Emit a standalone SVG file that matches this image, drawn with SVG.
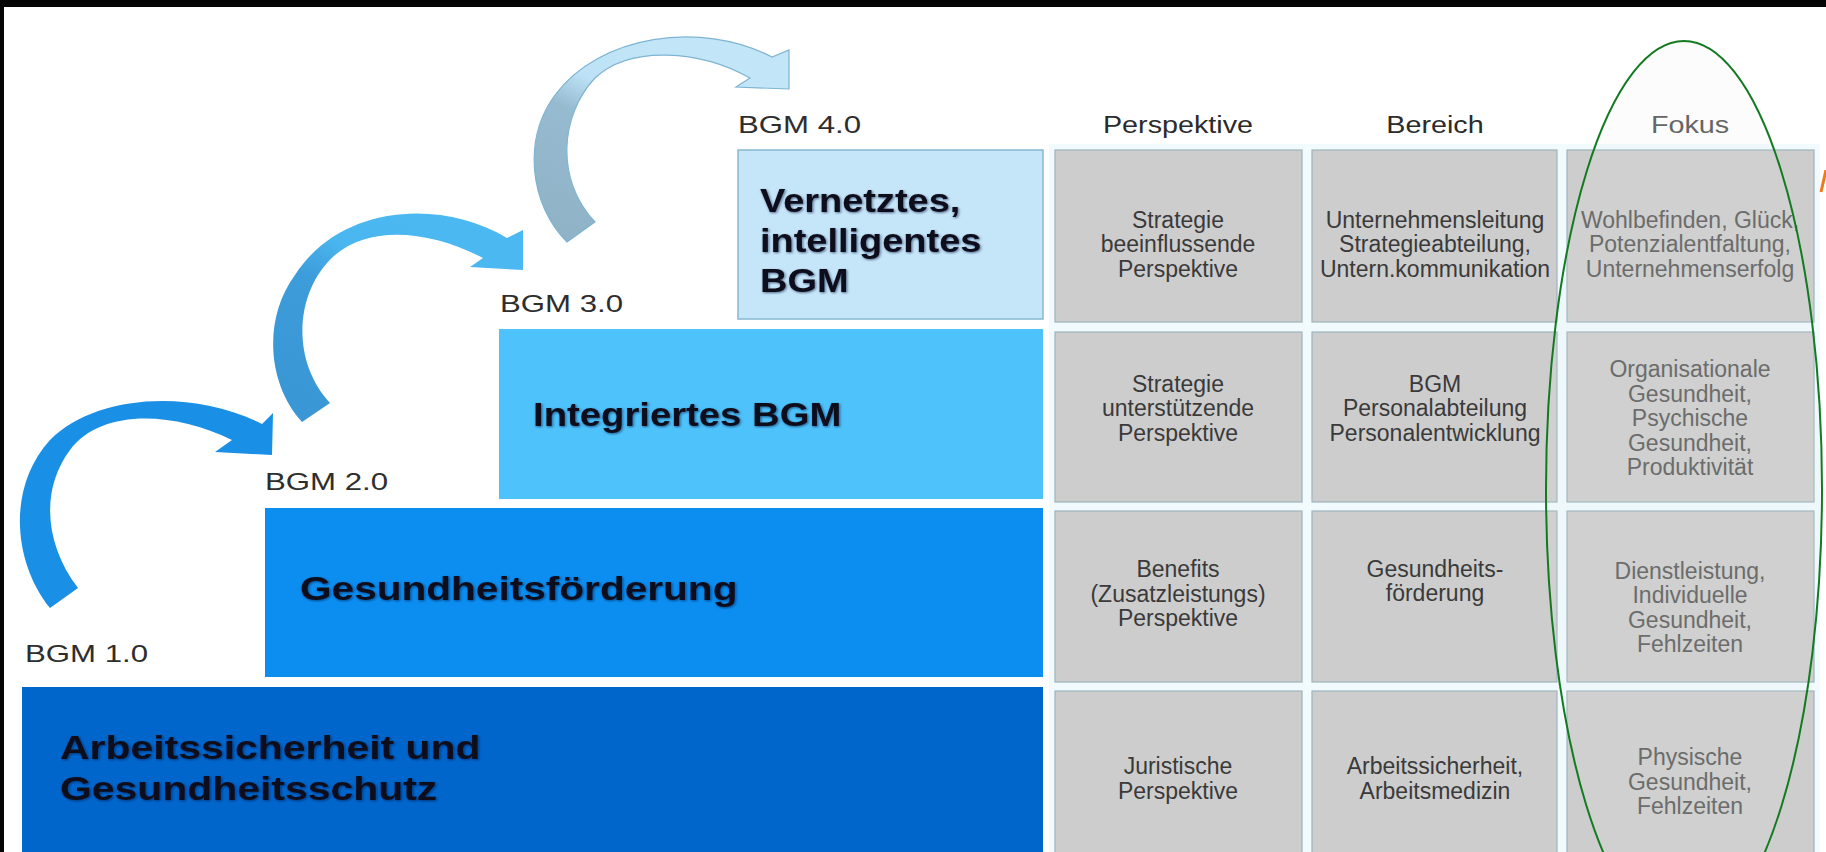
<svg xmlns="http://www.w3.org/2000/svg" width="1826" height="852" viewBox="0 0 1826 852">
  <style>
    .title { font-family: "Liberation Sans", Arial, sans-serif; font-weight: bold; font-size: 33px; fill: #10111a; }
    .lvl { font-family: "Liberation Sans", Arial, sans-serif; font-size: 24px; fill: #2e2e2e; }
    .head { font-family: "Liberation Sans", Arial, sans-serif; font-size: 23px; fill: #2b2b2b; text-anchor: middle; }
    .head.focus { fill: #555555; }
    .cell { fill: #cdcdcd; stroke: #9db4bd; stroke-width: 1.2; }
    .ct { font-family: "Liberation Sans", Arial, sans-serif; font-size: 23px; fill: #3a3a3a; text-anchor: middle; }
    .ct.focus { fill: #5c5c5c; }
  </style>
  <defs>
    <filter id="soft" x="-5%" y="-20%" width="110%" height="140%">
      <feGaussianBlur in="SourceAlpha" stdDeviation="1.2"/>
      <feOffset dx="1" dy="1" result="b"/>
      <feFlood flood-color="#0a1440" flood-opacity="0.6"/>
      <feComposite in2="b" operator="in"/>
      <feMerge><feMergeNode/><feMergeNode in="SourceGraphic"/></feMerge>
    </filter>
    <linearGradient id="arc2" gradientUnits="userSpaceOnUse" x1="285" y1="410" x2="400" y2="210">
      <stop offset="0" stop-color="#3a96d4"/>
      <stop offset="0.55" stop-color="#3d9cda"/>
      <stop offset="0.75" stop-color="#4ab6ef"/>
      <stop offset="1" stop-color="#4bb8f1"/>
    </linearGradient>
    <linearGradient id="arc3" gradientUnits="userSpaceOnUse" x1="555" y1="235" x2="650" y2="40">
      <stop offset="0" stop-color="#8fb2c6"/>
      <stop offset="0.55" stop-color="#96bad0"/>
      <stop offset="0.72" stop-color="#bde2f5"/>
      <stop offset="1" stop-color="#c2e6f8"/>
    </linearGradient>
  </defs>

  <!-- page and frame -->
  <rect x="0" y="0" width="1826" height="852" fill="#ffffff"/>
  <rect x="1049" y="144" width="771" height="708" fill="#f1fafd"/>
  <rect x="0" y="0" width="1826" height="7" fill="#050505"/>
  <rect x="0" y="0" width="4" height="852" fill="#050505"/>

  <!-- staircase levels (slide text is set wide, hence the x-scale) -->
  <g id="node-bgm4">
    <text class="lvl" transform="translate(738 133) scale(1.3 1)">BGM 4.0</text>
    <rect x="738" y="150" width="305" height="169" fill="#c5e6f8" stroke="#86b8d0" stroke-width="1.5"/>
    <g class="title" filter="url(#soft)" transform="translate(760 0) scale(1.15 1)">
      <text x="0" y="212">Vernetztes,</text>
      <text x="0" y="252">intelligentes</text>
      <text x="0" y="292">BGM</text>
    </g>
  </g>
  <g id="node-bgm3">
    <text class="lvl" transform="translate(500 312) scale(1.3 1)">BGM 3.0</text>
    <rect x="499" y="329" width="544" height="170" fill="#4ec2fa"/>
    <text class="title" filter="url(#soft)" transform="translate(533 426) scale(1.16 1)">Integriertes BGM</text>
  </g>
  <g id="node-bgm2">
    <text class="lvl" transform="translate(265 490) scale(1.3 1)">BGM 2.0</text>
    <rect x="265" y="508" width="778" height="169" fill="#0b8ef0"/>
    <text class="title" filter="url(#soft)" transform="translate(300 600) scale(1.23 1)">Gesundheitsförderung</text>
  </g>
  <g id="node-bgm1">
    <text class="lvl" transform="translate(25 662) scale(1.3 1)">BGM 1.0</text>
    <rect x="22" y="687" width="1021" height="170" fill="#0066cb"/>
    <g class="title" filter="url(#soft)" transform="translate(60 0) scale(1.24 1)">
      <text x="0" y="759">Arbeitssicherheit und</text>
      <text x="0" y="800">Gesundheitsschutz</text>
    </g>
  </g>

  <!-- column headers -->
  <g id="headers">
    <text class="head" transform="translate(1178 133) scale(1.25 1)">Perspektive</text>
    <text class="head" transform="translate(1435 133) scale(1.25 1)">Bereich</text>
    <text class="head focus" transform="translate(1690 133) scale(1.25 1)">Fokus</text>
  </g>

  <!-- row 1 -->
  <g id="cell-r1-perspektive">
    <rect class="cell" x="1055" y="150" width="247" height="172"/>
    <text class="ct" x="1178"><tspan x="1178" y="228">Strategie</tspan><tspan x="1178" y="252">beeinflussende</tspan><tspan x="1178" y="277">Perspektive</tspan></text>
  </g>
  <g id="cell-r1-bereich">
    <rect class="cell" x="1312" y="150" width="245" height="172"/>
    <text class="ct" x="1435"><tspan x="1435" y="228">Unternehmensleitung</tspan><tspan x="1435" y="252">Strategieabteilung,</tspan><tspan x="1435" y="277">Untern.kommunikation</tspan></text>
  </g>
  <g id="cell-r1-fokus">
    <rect class="cell" x="1567" y="150" width="247" height="172"/>
    <text class="ct focus" x="1690"><tspan x="1690" y="228">Wohlbefinden, Glück,</tspan><tspan x="1690" y="252">Potenzialentfaltung,</tspan><tspan x="1690" y="277">Unternehmenserfolg</tspan></text>
  </g>

  <!-- row 2 -->
  <g id="cell-r2-perspektive">
    <rect class="cell" x="1055" y="332" width="247" height="170"/>
    <text class="ct" x="1178"><tspan x="1178" y="392">Strategie</tspan><tspan x="1178" y="416">unterstützende</tspan><tspan x="1178" y="441">Perspektive</tspan></text>
  </g>
  <g id="cell-r2-bereich">
    <rect class="cell" x="1312" y="332" width="245" height="170"/>
    <text class="ct" x="1435"><tspan x="1435" y="392">BGM</tspan><tspan x="1435" y="416">Personalabteilung</tspan><tspan x="1435" y="441">Personalentwicklung</tspan></text>
  </g>
  <g id="cell-r2-fokus">
    <rect class="cell" x="1567" y="332" width="247" height="170"/>
    <text class="ct focus" x="1690"><tspan x="1690" y="377">Organisationale</tspan><tspan x="1690" y="402">Gesundheit,</tspan><tspan x="1690" y="426">Psychische</tspan><tspan x="1690" y="451">Gesundheit,</tspan><tspan x="1690" y="475">Produktivität</tspan></text>
  </g>

  <!-- row 3 -->
  <g id="cell-r3-perspektive">
    <rect class="cell" x="1055" y="511" width="247" height="171"/>
    <text class="ct" x="1178"><tspan x="1178" y="577">Benefits</tspan><tspan x="1178" y="602">(Zusatzleistungs)</tspan><tspan x="1178" y="626">Perspektive</tspan></text>
  </g>
  <g id="cell-r3-bereich">
    <rect class="cell" x="1312" y="511" width="245" height="171"/>
    <text class="ct" x="1435"><tspan x="1435" y="577">Gesundheits-</tspan><tspan x="1435" y="601">förderung</tspan></text>
  </g>
  <g id="cell-r3-fokus">
    <rect class="cell" x="1567" y="511" width="247" height="171"/>
    <text class="ct focus" x="1690"><tspan x="1690" y="579">Dienstleistung,</tspan><tspan x="1690" y="603">Individuelle</tspan><tspan x="1690" y="628">Gesundheit,</tspan><tspan x="1690" y="652">Fehlzeiten</tspan></text>
  </g>

  <!-- row 4 -->
  <g id="cell-r4-perspektive">
    <rect class="cell" x="1055" y="691" width="247" height="170"/>
    <text class="ct" x="1178"><tspan x="1178" y="774">Juristische</tspan><tspan x="1178" y="799">Perspektive</tspan></text>
  </g>
  <g id="cell-r4-bereich">
    <rect class="cell" x="1312" y="691" width="245" height="170"/>
    <text class="ct" x="1435"><tspan x="1435" y="774">Arbeitssicherheit,</tspan><tspan x="1435" y="799">Arbeitsmedizin</tspan></text>
  </g>
  <g id="cell-r4-fokus">
    <rect class="cell" x="1567" y="691" width="247" height="170"/>
    <text class="ct focus" x="1690"><tspan x="1690" y="765">Physische</tspan><tspan x="1690" y="790">Gesundheit,</tspan><tspan x="1690" y="814">Fehlzeiten</tspan></text>
  </g>

  <!-- curved step arrows -->
  <g id="connectors">
    <path d="M 50 608 C 15 565, 5 490, 50 440 C 95 395, 190 388, 262 424 L 273 413 L 272 455 L 215 452 L 232 440 C 170 410, 100 410, 70 450 C 40 490, 45 545, 78 588 Z" fill="#1a8fe6"/>
    <path d="M 302 422 C 268 385, 262 320, 295 275 C 340 205, 440 198, 507 238 L 523 230 L 523 270 L 470 267 L 483 258 C 430 230, 370 225, 335 255 C 295 290, 290 360, 330 403 Z" fill="url(#arc2)"/>
    <path d="M 567 242 C 530 205, 522 140, 555 95 C 600 35, 700 20, 772 57 L 789 50 L 789 89 L 736 87 L 750 78 C 700 50, 630 45, 595 78 C 560 115, 555 180, 595 222 Z" fill="url(#arc3)" stroke="#7eb4d2" stroke-width="1.2"/>
  </g>

  <!-- focus highlight -->
  <ellipse cx="1684" cy="489" rx="138" ry="448" fill="#dfe8df" fill-opacity="0.12" stroke="#137a22" stroke-width="2"/>
  <line x1="1821" y1="192" x2="1826" y2="170" stroke="#ea7a1c" stroke-width="3"/>
</svg>
